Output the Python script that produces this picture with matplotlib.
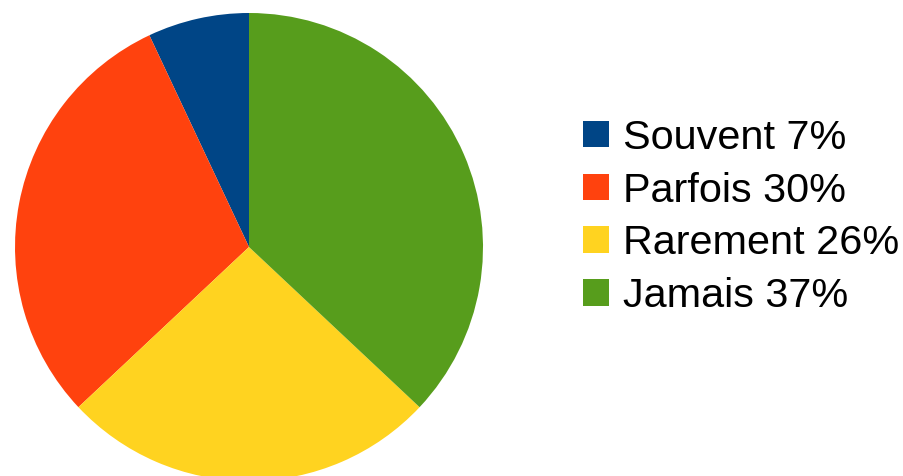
import matplotlib.pyplot as plt

# fréquence des réponses
categories = ['Souvent', 'Parfois', 'Rarement', 'Jamais']
pourcentages = [7, 30, 26, 37]
couleurs = ['#004586', '#ff420e', '#ffd320', '#579d1c']

plt.rcParams['font.family'] = ['Liberation Sans', 'DejaVu Sans']

fig = plt.figure(figsize=(9.04, 4.76), dpi=100)
ax = fig.add_axes([0.0166, -0.0105, 0.5177, 0.9832])

wedges, _ = ax.pie(pourcentages, colors=couleurs, startangle=90,
                   counterclock=True, radius=1.0,
                   wedgeprops={'linewidth': 0})
ax.set_xlim(-1, 1)
ax.set_ylim(-1, 1)
ax.set_aspect('equal')

labels = ['%s %d%%' % (c, p) for c, p in zip(categories, pourcentages)]
fig.legend(wedges, labels, loc='center left',
           bbox_to_anchor=(583 / 904, 1 - 217 / 476),
           frameon=False, fontsize=29.8, borderpad=0, borderaxespad=0,
           handlelength=0.62, handleheight=0.62, handletextpad=0.34,
           labelspacing=0.36)

fig.savefig('out.png', dpi=100)
